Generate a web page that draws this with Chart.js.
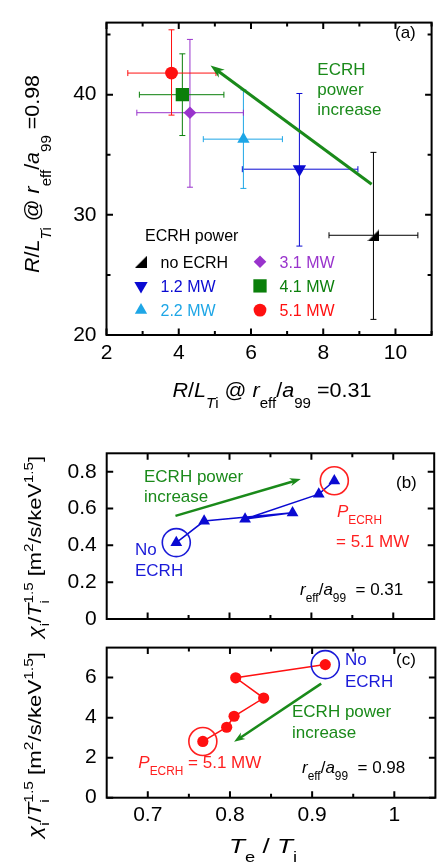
<!DOCTYPE html>
<html>
<head>
<meta charset="utf-8">
<script src="https://cdn.jsdelivr.net/npm/chart.js@4.4.0/dist/chart.umd.min.js"></script>
<style>
  body { margin: 0; background: #fff; width: 441px; height: 868px; position: relative; overflow: hidden; }
  canvas { position: absolute; left: 0; }
</style>
</head>
<body>
<canvas id="ca" width="441" height="420" style="top:0px"></canvas>
<canvas id="cb" width="441" height="230" style="top:420px"></canvas>
<canvas id="cc" width="441" height="243" style="top:625px"></canvas>
<script>
const FONT = "'Liberation Sans', Arial, Helvetica, sans-serif";

// (a) R/L_Ti at r/a=0.31 (x) vs r/a=0.98 (y), one point per ECRH power
const powerLabels = ['no ECRH', '1.2 MW', '2.2 MW', '3.1 MW', '4.1 MW', '5.1 MW'];
const powerColors = ['#000000', '#0a0ad2', '#1ea6e6', '#9933cc', '#0a7f0a', '#ff1010'];
const rlCore   = [9.39, 7.34, 5.79, 4.31, 4.10, 3.80];
const rlCoreLo = [8.16, 5.76, 4.68, 2.84, 2.91, 2.59];
const rlCoreHi = [10.62, 8.96, 6.87, 5.79, 5.25, 5.03];
const rlEdge   = [28.3, 33.8, 36.3, 38.5, 40.0, 41.8];
const rlEdgeLo = [21.3, 27.4, 32.2, 32.3, 36.6, 38.3];
const rlEdgeHi = [35.2, 40.1, 40.4, 44.6, 43.4, 45.4];
const aXTicks = [2, 4, 6, 8, 10];
const aXMinor = [3, 5, 7, 9, 11];
const aYTicks = [20, 30, 40];
const aYMinor = [25, 35, 45];

// (b) chi_i/Ti^1.5 vs Te/Ti at r/a=0.31, (c) same at r/a=0.98
const teTiCore = [0.735, 0.769, 0.877, 0.819, 0.909, 0.928];
const chiCore  = [0.415, 0.532, 0.577, 0.543, 0.678, 0.751];
const teTiEdge = [0.916, 0.807, 0.841, 0.805, 0.796, 0.767];
const chiEdge  = [6.65, 5.99, 4.98, 4.07, 3.52, 2.81];
const tXTicks = [0.7, 0.8, 0.9, 1];
const tXMinor = [0.75, 0.85, 0.95];
const bYTicks = [0, 0.2, 0.4, 0.6, 0.8];
const cYTicks = [0, 2, 4, 6];

// black "no ECRH" marker is a right triangle
const blkTri = document.createElement('canvas');
blkTri.width = 12; blkTri.height = 12;
(c => { c.fillStyle = '#000'; c.beginPath(); c.moveTo(12, 0); c.lineTo(12, 12); c.lineTo(0, 12); c.closePath(); c.fill(); })(blkTri.getContext('2d'));
const aStyles = [blkTri, 'triangle', 'triangle', 'rectRot', 'rect', 'circle'];
const aRot = [0, 180, 0, 0, 0, 0];
const aRad = [7, 7.7, 7.1, 6.3, 9.4, 6.4];

const GREEN = '#1a8a1a';

// text with italics / sub / superscripts; len stretches it to a given length
function rich(ctx, parts, x, y, size, color, align, subDy, rot, len) {
  ctx.save();
  ctx.translate(x, y);
  if (rot) ctx.rotate(-Math.PI / 2);
  const segs = parts.map(p => {
    const f = p[1] || '';
    const small = f.includes('b') || f.includes('p');
    const font = (f.includes('i') ? 'italic ' : '') + (small ? size * 0.7 : size) + 'px ' + FONT;
    ctx.font = font;
    return { t: p[0], f, font, w: ctx.measureText(p[0]).width };
  });
  let cx = 0, W = 0;
  segs.forEach(s => { s.x = cx; W = Math.max(W, cx + s.w); if (!s.f.includes('n')) cx += s.w; });
  if (len) { ctx.scale(len / W, 1); }
  const x0 = align === 'center' ? -W / 2 : align === 'right' ? -W : 0;
  ctx.fillStyle = color; ctx.textAlign = 'left'; ctx.textBaseline = 'alphabetic';
  segs.forEach(s => {
    ctx.font = s.font;
    const dy = s.f.includes('b') ? size * (subDy || 0.4) : s.f.includes('p') ? -size * 0.42 : 0;
    ctx.fillText(s.t, x0 + s.x, dy);
  });
  ctx.restore();
}

function arrow(ctx, x1, y1, x2, y2, color, lw, hl, hw) {
  const a = Math.atan2(y2 - y1, x2 - x1), c = Math.cos(a), s = Math.sin(a);
  ctx.save();
  ctx.strokeStyle = color; ctx.fillStyle = color; ctx.lineWidth = lw;
  ctx.beginPath(); ctx.moveTo(x1, y1); ctx.lineTo(x2 - c * hl * 0.6, y2 - s * hl * 0.6); ctx.stroke();
  ctx.beginPath();
  ctx.moveTo(x2, y2);
  ctx.lineTo(x2 - c * hl - s * hw / 2, y2 - s * hl + c * hw / 2);
  ctx.lineTo(x2 - c * hl * 0.7, y2 - s * hl * 0.7);
  ctx.lineTo(x2 - c * hl + s * hw / 2, y2 - s * hl - c * hw / 2);
  ctx.closePath(); ctx.fill();
  ctx.restore();
}

function makeDeco(spec) {
  return {
    id: 'deco',
    beforeDatasetsDraw(chart) {
      const ctx = chart.ctx, xs = chart.scales.x, ys = chart.scales.y;
      (spec.errors || []).forEach(e => {
        ctx.save();
        ctx.strokeStyle = e.color; ctx.lineWidth = 1;
        const px = xs.getPixelForValue(e.x), py = ys.getPixelForValue(e.y);
        const xl = xs.getPixelForValue(e.xlo), xh = xs.getPixelForValue(e.xhi);
        const yl = ys.getPixelForValue(e.ylo), yh = ys.getPixelForValue(e.yhi);
        ctx.beginPath();
        ctx.moveTo(xl, py); ctx.lineTo(xh, py);
        ctx.moveTo(xl, py - 3); ctx.lineTo(xl, py + 3);
        ctx.moveTo(xh, py - 3); ctx.lineTo(xh, py + 3);
        ctx.moveTo(px, yl); ctx.lineTo(px, yh);
        ctx.moveTo(px - 3, yl); ctx.lineTo(px + 3, yl);
        ctx.moveTo(px - 3, yh); ctx.lineTo(px + 3, yh);
        ctx.stroke();
        ctx.restore();
      });
    },
    afterDatasetsDraw(chart) {
      const ctx = chart.ctx, ca = chart.chartArea, xs = chart.scales.x, ys = chart.scales.y;
      ctx.save();
      ctx.strokeStyle = '#000'; ctx.lineWidth = 2;
      ctx.strokeRect(ca.left, ca.top, ca.right - ca.left, ca.bottom - ca.top);
      ctx.beginPath();
      const tick = (vals, len) => {
        vals.x.forEach(v => { const p = xs.getPixelForValue(v); ctx.moveTo(p, ca.bottom); ctx.lineTo(p, ca.bottom - len); ctx.moveTo(p, ca.top); ctx.lineTo(p, ca.top + len); });
        vals.y.forEach(v => { const p = ys.getPixelForValue(v); ctx.moveTo(ca.left, p); ctx.lineTo(ca.left + len, p); ctx.moveTo(ca.right, p); ctx.lineTo(ca.right - len, p); });
      };
      tick(spec.major, 6.5);
      tick(spec.minor, 4);
      ctx.stroke();
      ctx.restore();
      (spec.circles || []).forEach(c => {
        ctx.save();
        ctx.strokeStyle = c.color; ctx.lineWidth = 1.6;
        ctx.beginPath();
        ctx.arc(xs.getPixelForValue(c.x), ys.getPixelForValue(c.y), 14, 0, Math.PI * 2);
        ctx.stroke();
        ctx.restore();
      });
      (spec.arrows || []).forEach(a => {
        arrow(ctx, xs.getPixelForValue(a.x1), ys.getPixelForValue(a.y1), xs.getPixelForValue(a.x2), ys.getPixelForValue(a.y2), GREEN, a.lw, a.hl, a.hw);
      });
    },
    afterDraw(chart) {
      const ctx = chart.ctx;
      (spec.texts || []).forEach(t => rich(ctx, t.parts, t.x, t.y - spec.top, t.size, t.color || '#000', t.align, t.sub, t.rot, t.len));
      if (spec.legend) {
        rich(ctx, [['ECRH power']], 145, 240.7, 16, '#000');
        powerLabels.forEach((lab, i) => {
          const col = Math.floor(i / 3), row = i % 3;
          const mx = col ? 260 : 141, my = 261.7 + row * 24.2;
          ctx.save();
          ctx.fillStyle = powerColors[i];
          Chart.helpers.drawPoint(ctx, { pointStyle: aStyles[i], rotation: aRot[i], radius: aRad[i], borderWidth: 0 }, mx, my);
          ctx.restore();
          rich(ctx, [[lab]], mx + 19.5, my + 5.8, 16, powerColors[i]);
        });
      }
    }
  };
}

function axisOpts(min, max, ticks, fit, pad, show) {
  return {
    type: 'linear', min, max,
    grid: { display: false, drawTicks: false },
    border: { display: false },
    afterBuildTicks: s => { s.ticks = ticks.map(v => ({ value: v })); },
    afterFit: fit,
    ticks: { display: show, font: { family: FONT, size: 21 }, color: '#000', padding: pad, maxRotation: 0,
             callback: v => String(+(+v).toFixed(3)) }
  };
}

const baseOpts = {
  responsive: false, animation: false, events: [],
  plugins: { legend: { display: false }, tooltip: { enabled: false } }
};

const rlLabel = end => [['R', 'i'], ['/'], ['L', 'i'], ['T', 'ib'], ['i', 'b'], [' @ '], ['r', 'i'], ['eff', 'b'], ['/'], ['a', 'i'], ['99', 'b'], [end]];

// panel (a)
new Chart(document.getElementById('ca'), {
  type: 'scatter',
  data: {
    datasets: powerLabels.map((lab, i) => ({
      label: lab,
      data: [{ x: rlCore[i], y: rlEdge[i] }],
      pointStyle: aStyles[i], rotation: aRot[i],
      pointRadius: aRad[i], pointHoverRadius: aRad[i],
      backgroundColor: powerColors[i], borderColor: powerColors[i], borderWidth: 0
    }))
  },
  options: Object.assign({}, baseOpts, {
    layout: { padding: { left: 0, right: 4.5, top: 5, bottom: 0 } },
    scales: {
      x: axisOpts(2, 11, aXTicks, s => { s.height = 85; }, 6, true),
      y: axisOpts(20, 46, aYTicks, s => { s.width = 106.5; }, 10, true)
    }
  }),
  plugins: [makeDeco({
    top: 0,
    major: { x: aXTicks, y: aYTicks }, minor: { x: aXMinor, y: aYMinor },
    errors: powerLabels.map((l, i) => ({ color: powerColors[i], x: rlCore[i], y: rlEdge[i], xlo: rlCoreLo[i], xhi: rlCoreHi[i], ylo: rlEdgeLo[i], yhi: rlEdgeHi[i] })),
    arrows: [{ x1: 9.34, y1: 32.55, x2: 4.88, y2: 42.43, lw: 3, hl: 14, hw: 10 }],
    legend: true,
    texts: [
      { parts: [['(a)']], x: 395, y: 38, size: 17 },
      { parts: [['ECRH']], x: 317.3, y: 75, size: 17, color: GREEN },
      { parts: [['power']], x: 317.3, y: 95, size: 17, color: GREEN },
      { parts: [['increase']], x: 317.3, y: 115, size: 17, color: GREEN },
      { parts: rlLabel(' =0.31'), x: 272, y: 396.7, size: 20.5, align: 'center', sub: 0.55, len: 199 },
      { parts: rlLabel(' =0.98'), x: 39.3, y: 174, size: 20.5, align: 'center', sub: 0.55, rot: true, len: 198 }
    ]
  })]
});

const chiLabel = [['χ', 'i'], ['i', 'b'], ['/'], ['T', 'i'], ['i', 'bn'], ['1.5', 'p'], [' [m'], ['2', 'p'], ['/s/keV'], ['1.5', 'p'], [']']];

// panel (b)
new Chart(document.getElementById('cb'), {
  type: 'scatter',
  data: {
    datasets: [{
      data: teTiCore.map((v, i) => ({ x: v, y: chiCore[i] })),
      showLine: true, borderColor: '#0a0ad2', borderWidth: 1.5,
      pointStyle: 'triangle', pointRadius: 6.8, pointHoverRadius: 6.8,
      backgroundColor: '#0a0ad2', pointBorderWidth: 0
    }]
  },
  options: Object.assign({}, baseOpts, {
    layout: { padding: { left: 0, right: 4.3, top: 33.3, bottom: 0 } },
    scales: {
      x: axisOpts(0.65, 1.05, tXTicks, s => { s.height = 31; }, 5, false),
      y: axisOpts(0, 0.9, bYTicks, s => { s.width = 106.7; }, 10, true)
    }
  }),
  plugins: [makeDeco({
    top: 420,
    major: { x: tXTicks, y: bYTicks }, minor: { x: tXMinor, y: [] },
    circles: [{ x: teTiCore[0], y: chiCore[0], color: '#1a1ad8' }, { x: teTiCore[5], y: chiCore[5], color: '#ff2020' }],
    arrows: [{ x1: 0.734, y1: 0.56, x2: 0.887, y2: 0.76, lw: 2.5, hl: 11, hw: 8 }],
    texts: [
      { parts: [['ECRH power']], x: 144, y: 482, size: 17, color: GREEN },
      { parts: [['increase']], x: 144, y: 502, size: 17, color: GREEN },
      { parts: [['(b)']], x: 396, y: 488, size: 17 },
      { parts: [['P', 'i'], ['ECRH', 'b']], x: 337, y: 516.7, size: 17, color: '#ff2020' },
      { parts: [['= 5.1 MW']], x: 336, y: 546.7, size: 17, color: '#ff2020' },
      { parts: [['No']], x: 135, y: 555, size: 17, color: '#1a1ad8' },
      { parts: [['ECRH']], x: 135, y: 576, size: 17, color: '#1a1ad8' },
      { parts: [['r', 'i'], ['eff', 'b'], ['/'], ['a', 'i'], ['99', 'b'], ['  = 0.31']], x: 300, y: 595, size: 17 },
      { parts: chiLabel, x: 40.5, y: 547, size: 18.5, align: 'center', sub: 0.45, rot: true, len: 182 }
    ]
  })]
});

// panel (c)
new Chart(document.getElementById('cc'), {
  type: 'scatter',
  data: {
    datasets: [{
      data: teTiEdge.map((v, i) => ({ x: v, y: chiEdge[i] })),
      showLine: true, borderColor: '#ff1010', borderWidth: 1.5,
      pointStyle: 'circle', pointRadius: 5.6, pointHoverRadius: 5.6,
      backgroundColor: '#ff1010', pointBorderWidth: 0
    }]
  },
  options: Object.assign({}, baseOpts, {
    layout: { padding: { left: 0, right: 4.3, top: 6.7, bottom: 0 } },
    scales: {
      x: axisOpts(0.65, 1.05, tXTicks, s => { s.height = 70.3; }, 5, true),
      y: axisOpts(0, 7.5, cYTicks, s => { s.width = 106.7; }, 10, true)
    }
  }),
  plugins: [makeDeco({
    top: 625,
    major: { x: tXTicks, y: cYTicks }, minor: { x: tXMinor, y: [] },
    circles: [{ x: teTiEdge[0], y: chiEdge[0], color: '#1a1ad8' }, { x: teTiEdge[5], y: chiEdge[5], color: '#ff2020' }],
    arrows: [{ x1: 0.911, y1: 5.7, x2: 0.805, y2: 2.79, lw: 2.5, hl: 11, hw: 8 }],
    texts: [
      { parts: [['No']], x: 345, y: 665, size: 17, color: '#1a1ad8' },
      { parts: [['ECRH']], x: 345, y: 686.7, size: 17, color: '#1a1ad8' },
      { parts: [['(c)']], x: 396, y: 665, size: 17 },
      { parts: [['ECRH power']], x: 292, y: 716.7, size: 17, color: GREEN },
      { parts: [['increase']], x: 292, y: 738.3, size: 17, color: GREEN },
      { parts: [['P', 'i'], ['ECRH', 'b'], [' = 5.1 MW']], x: 138.3, y: 768.3, size: 17, color: '#ff2020' },
      { parts: [['r', 'i'], ['eff', 'b'], ['/'], ['a', 'i'], ['99', 'b'], ['  = 0.98']], x: 302, y: 773, size: 17 },
      { parts: [['T', 'i'], ['e', 'b'], [' / '], ['T', 'i'], ['i', 'b']], x: 263, y: 853, size: 21, align: 'center', sub: 0.45, len: 68 },
      { parts: chiLabel, x: 40.5, y: 745, size: 18.5, align: 'center', sub: 0.45, rot: true, len: 186 }
    ]
  })]
});
</script>
</body>
</html>
